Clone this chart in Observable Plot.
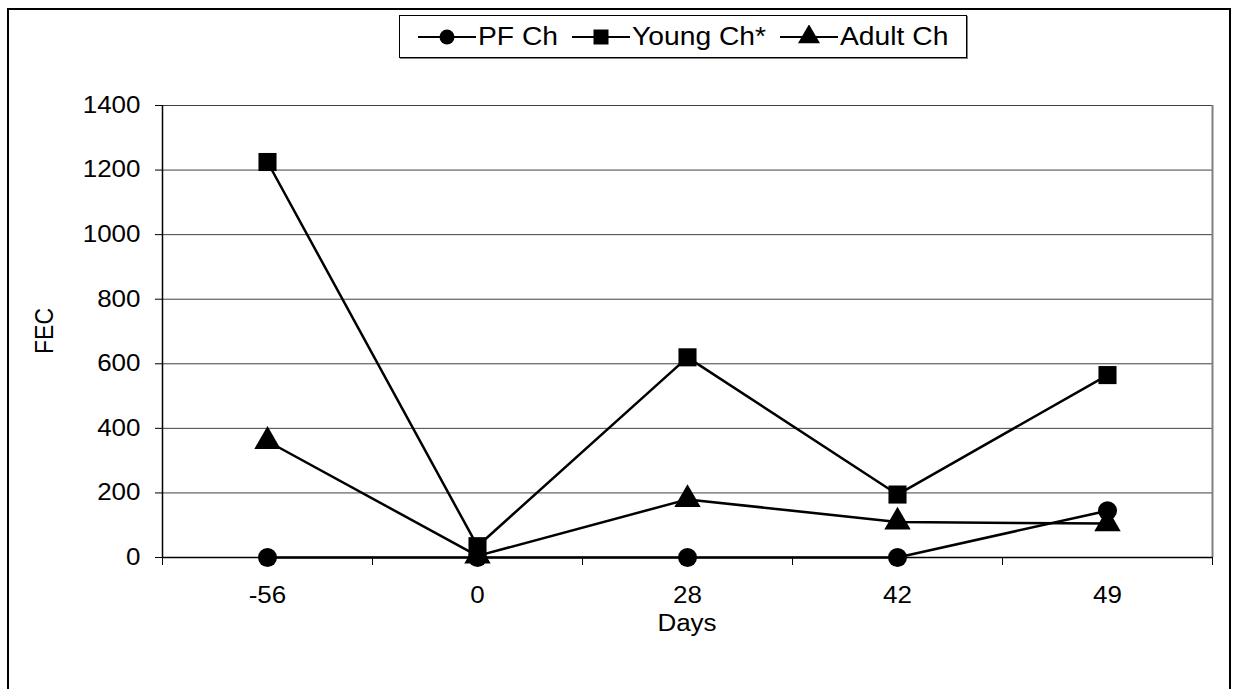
<!DOCTYPE html>
<html>
<head>
<meta charset="utf-8">
<script src="https://cdn.jsdelivr.net/npm/d3@7"></script>
<script src="https://cdn.jsdelivr.net/npm/@observablehq/plot@0.6"></script>
<style>
  html, body { margin: 0; padding: 0; background: #fff; }
  #wrap { position: relative; width: 1233px; height: 689px; overflow: hidden; font-family: "Liberation Sans", Arial, sans-serif; }
  #border { position: absolute; left: 7px; top: 8px; width: 1224px; height: 720px; border: 2px solid #000; border-bottom: none; box-sizing: border-box; }
  #chart { position: absolute; left: 0; top: 0; }
  #legend { position: absolute; left: 399px; top: 15px; width: 568px; height: 43px; border: 1px solid #000; box-shadow: 1px 1px 0 #808080; box-sizing: border-box; display: flex; align-items: center; justify-content: center; gap: 14px; font-size: 25px; color: #000; background: #fff; }
  .item { display: flex; align-items: center; gap: 2px; }
  .stretch { display: inline-block; transform: scaleX(1.13); transform-origin: left center; white-space: nowrap; }
  #ylabel { position: absolute; left: 45px; top: 331px; transform: translate(-50%, -50%) rotate(-90deg) scaleY(1.13); font-size: 23px; }
  #xlabel { position: absolute; left: 687px; top: 623px; transform: translate(-50%, -50%) scaleX(1.13); font-size: 23px; }
</style>
</head>
<body>
<div id="wrap">
  <div id="border"></div>
  <div id="chart"></div>
  <div id="legend"></div>
  <div id="ylabel">FEC</div>
  <div id="xlabel">Days</div>
</div>
<script>
const days = ["-56", "0", "28", "42", "49"];
const seriesNames = ["PF Ch", "Young Ch*", "Adult Ch"];
const pfCh = [0, 0, 0, 0, 145];
const youngCh = [1225, 35, 620, 195, 565];
const adultCh = [360, 5, 180, 110, 105];
const yTicks = [0, 200, 400, 600, 800, 1000, 1200, 1400];
const symbols = ["circle", "square", "triangle"];
const markerR = [9.5, 10.2, 9.8];

const seriesValues = [pfCh, youngCh, adultCh];
const rows = [];
seriesNames.forEach((s, k) => {
  seriesValues[k].forEach((v, i) => rows.push({i, day: days[i], series: s, value: v, r: markerR[k]}));
});

const idx = days.map((d, i) => i);
const bounds = [-0.5, ...idx.map(i => i + 0.5)];

const chart = Plot.plot({
  width: 1233,
  height: 689,
  marginLeft: 162,
  marginRight: 21,
  marginTop: 105,
  marginBottom: 132,
  style: {fontFamily: "Liberation Sans, Arial, sans-serif", fontSize: "23px", color: "#000", background: "transparent"},
  x: {type: "linear", domain: [-0.5, days.length - 0.5], label: null},
  y: {domain: [0, 1400], label: null},
  r: {type: "identity"},
  symbol: {domain: seriesNames, range: symbols},
  marks: [
    Plot.gridY(yTicks, {stroke: "#000", strokeOpacity: 0.75, strokeWidth: 1}),
    Plot.ruleX([days.length - 0.5], {stroke: "#808080", strokeWidth: 2}),
    Plot.ruleX([-0.5], {stroke: "#000", strokeWidth: 1.5}),
    Plot.ruleY([0], {stroke: "#000", strokeWidth: 1.5}),
    Plot.axisY({ticks: yTicks, tickSize: 7, tickPadding: 15, tickFormat: d => String(d), label: null, fontSize: 23}),
    Plot.axisX({ticks: bounds, tickSize: 8, tickFormat: () => "", label: null}),
    Plot.axisX({ticks: idx, tickSize: 0, tickPadding: 29, tickFormat: i => days[i], label: null, fontSize: 23}),
    Plot.line(rows, {x: "i", y: "value", z: "series", stroke: "#000", strokeWidth: 2.5}),
    Plot.dot(rows, {x: "i", y: "value", symbol: "series", r: "r", fill: "#000", stroke: "none"})
  ]
});
document.getElementById("chart").appendChild(chart);

// Horizontal stretch of tick labels, anchored on each label's own box
function stretch(sel, anchor) {
  d3.select(chart).selectAll(sel).each(function() {
    if (!this.textContent) return;
    const b = this.getBBox();
    const cx = anchor === "right" ? b.x + b.width : b.x + b.width / 2;
    const prev = this.getAttribute("transform") || "";
    this.setAttribute("transform", `${prev} translate(${cx},0) scale(1.13,1) translate(${-cx},0)`);
  });
}
stretch('g[aria-label="y-axis tick label"] text', "right");
stretch('g[aria-label="x-axis tick label"] text', "center");

// Legend
const legend = document.getElementById("legend");
const symPath = {circle: d3.symbolCircle, square: d3.symbolSquare, triangle: d3.symbolTriangle};
const symSize = {circle: Math.PI * 7.5 * 7.5, square: 15 * 15, triangle: 210};
seriesNames.forEach((s, k) => {
  const item = document.createElement("div");
  item.className = "item";
  const svg = d3.create("svg").attr("width", 58).attr("height", 24);
  svg.append("line").attr("x1", 0).attr("x2", 58).attr("y1", 12).attr("y2", 12).attr("stroke", "#000").attr("stroke-width", 2);
  svg.append("path").attr("transform", "translate(29,12)").attr("d", d3.symbol(symPath[symbols[k]], symSize[symbols[k]])()).attr("fill", "#000");
  item.appendChild(svg.node());
  const t = document.createElement("span");
  t.className = "stretch";
  t.textContent = s;
  item.appendChild(t);
  legend.appendChild(item);
  t.style.marginRight = (t.offsetWidth * 0.13) + "px";
});
</script>
</body>
</html>
